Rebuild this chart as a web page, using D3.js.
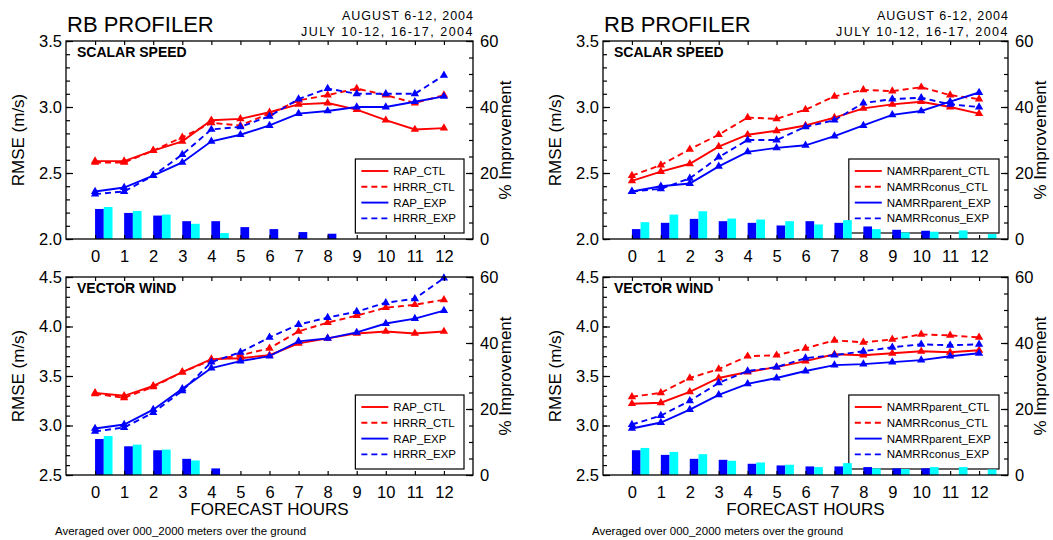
<!DOCTYPE html>
<html>
<head>
<meta charset="utf-8">
<script src="https://cdn.jsdelivr.net/npm/d3@7"></script>
<style>
  body { margin: 0; background: #fff; }
  svg { font-family: "Liberation Sans", Arial, sans-serif; }
  .axis path.domain { display: none; }
  .axis line { stroke: #000; stroke-width: 1.2; }
  .axis text { font-size: 16.5px; fill: #000; }
</style>
</head>
<body>
<script>
/* GLOBALS */
var W = 1053, H = 540;

var hours = [0, 1, 2, 3, 4, 5, 6, 7, 8, 9, 10, 11, 12];

// Scalar speed, RAP / HRRR (RMSE m/s)
var ssRapCtl  = [2.59, 2.59, 2.67, 2.74, 2.90, 2.91, 2.96, 3.02, 3.03, 2.98, 2.90, 2.83, 2.84];
var ssHrrrCtl = [2.58, 2.58, 2.67, 2.77, 2.88, 2.86, 2.95, 3.05, 3.09, 3.14, 3.09, 3.03, 3.09];
var ssRapExp  = [2.36, 2.39, 2.48, 2.58, 2.74, 2.79, 2.86, 2.95, 2.97, 3.00, 3.00, 3.04, 3.08];
var ssHrrrExp = [2.34, 2.36, 2.48, 2.64, 2.83, 2.85, 2.93, 3.06, 3.14, 3.10, 3.10, 3.10, 3.24];
// % improvement bars
var ssRapImp  = [9.1, 7.9, 7.1, 5.4, 5.4, 3.6, 3.0, 2.1, 1.6, null, null, null, null];
var ssHrrrImp = [9.7, 8.5, 7.4, 4.6, 1.8, null, null, null, null, null, null, null, null];

// Vector wind, RAP / HRRR
var vwRapCtl  = [3.33, 3.30, 3.40, 3.54, 3.67, 3.68, 3.71, 3.83, 3.88, 3.93, 3.95, 3.93, 3.95];
var vwHrrrCtl = [3.32, 3.28, 3.39, 3.54, 3.66, 3.71, 3.78, 3.95, 4.04, 4.11, 4.19, 4.22, 4.27];
var vwRapExp  = [2.97, 3.01, 3.16, 3.37, 3.58, 3.65, 3.70, 3.85, 3.88, 3.94, 4.03, 4.08, 4.16];
var vwHrrrExp = [2.94, 2.98, 3.13, 3.35, 3.64, 3.74, 3.89, 4.02, 4.09, 4.15, 4.24, 4.28, 4.49];
var vwRapImp  = [10.9, 8.7, 7.5, 4.9, 2.0, null, null, null, null, null, null, null, null];
var vwHrrrImp = [11.8, 9.2, 7.7, 4.4, null, null, null, null, null, null, null, null, null];

// Scalar speed, NAMRR parent / conus
var ssParCtl = [2.44, 2.51, 2.57, 2.70, 2.79, 2.82, 2.86, 2.92, 2.99, 3.02, 3.04, 3.00, 2.95];
var ssConCtl = [2.48, 2.56, 2.68, 2.79, 2.92, 2.91, 2.98, 3.08, 3.13, 3.12, 3.15, 3.09, 3.06];
var ssParExp = [2.36, 2.40, 2.42, 2.55, 2.66, 2.69, 2.71, 2.78, 2.86, 2.94, 2.97, 3.04, 3.11];
var ssConExp = [2.36, 2.38, 2.46, 2.62, 2.75, 2.75, 2.85, 2.90, 3.03, 3.06, 3.07, 3.02, 3.00];
var ssParImp = [3.0, 4.9, 6.1, 5.4, 4.9, 4.1, 5.4, 4.9, 3.8, 2.8, 2.5, null, null];
var ssConImp = [5.1, 7.4, 8.4, 6.2, 5.9, 5.4, 4.4, 5.7, 3.0, 2.0, 2.2, 2.6, 1.5];

// Vector wind, NAMRR parent / conus
var vwParCtl = [3.22, 3.23, 3.34, 3.48, 3.54, 3.59, 3.65, 3.72, 3.71, 3.73, 3.75, 3.74, 3.76];
var vwConCtl = [3.29, 3.33, 3.48, 3.57, 3.70, 3.71, 3.78, 3.86, 3.84, 3.87, 3.92, 3.91, 3.89];
var vwParExp = [2.97, 3.03, 3.16, 3.31, 3.42, 3.48, 3.55, 3.61, 3.62, 3.64, 3.66, 3.70, 3.73];
var vwConExp = [3.01, 3.10, 3.25, 3.43, 3.55, 3.59, 3.68, 3.71, 3.75, 3.79, 3.82, 3.81, 3.82];
var vwParImp = [7.5, 6.1, 4.9, 4.6, 3.4, 2.9, 2.6, 2.6, 2.4, 2.0, 2.0, null, null];
var vwConImp = [8.2, 7.0, 6.3, 4.3, 3.8, 3.1, 2.4, 3.6, 2.0, 1.8, 2.4, 2.4, 1.7];

var rapNames = ["RAP_CTL", "HRRR_CTL", "RAP_EXP", "HRRR_EXP"];
var namNames = ["NAMRRparent_CTL", "NAMRRconus_CTL", "NAMRRparent_EXP", "NAMRRconus_EXP"];

var lineColors = ["#ff0000", "#ff0000", "#0000ff", "#0000ff"];
var lineDash = [null, "6,4", null, "6,4"];
var barColors = ["#0000ff", "#00ffff"];

/* PANELS */
var panels = [
  { x0: 66,  x1: 473,  y0: 41,  y1: 239, dom: [2.0, 3.5], name: "SCALAR SPEED", head: true,
    series: [ssRapCtl, ssHrrrCtl, ssRapExp, ssHrrrExp], bars: [ssRapImp, ssHrrrImp], names: rapNames },
  { x0: 66,  x1: 473,  y0: 277, y1: 475, dom: [2.5, 4.5], name: "VECTOR WIND", head: false,
    series: [vwRapCtl, vwHrrrCtl, vwRapExp, vwHrrrExp], bars: [vwRapImp, vwHrrrImp], names: rapNames },
  { x0: 603, x1: 1008, y0: 41,  y1: 239, dom: [2.0, 3.5], name: "SCALAR SPEED", head: true,
    series: [ssParCtl, ssConCtl, ssParExp, ssConExp], bars: [ssParImp, ssConImp], names: namNames },
  { x0: 603, x1: 1008, y0: 277, y1: 475, dom: [2.5, 4.5], name: "VECTOR WIND", head: false,
    series: [vwParCtl, vwConCtl, vwParExp, vwConExp], bars: [vwParImp, vwConImp], names: namNames }
];

function init() {
  var svg = d3.select("body").append("svg")
    .attr("width", W)
    .attr("height", H);

  panels.forEach(function (p) { drawPanel(svg, p); });
}

function drawPanel(svg, p) {
  var x = d3.scaleLinear().domain([-1, 13]).range([p.x0, p.x1]);
  var y = d3.scaleLinear().domain(p.dom).range([p.y1, p.y0]);
  var yr = d3.scaleLinear().domain([0, 60]).range([p.y1, p.y0]);
  var g = svg.append("g");

  // improvement bars (blue = first model, cyan = second)
  p.bars.forEach(function (vals, k) {
    g.selectAll(null)
      .data(hours.filter(function (h) { return vals[h] != null; }))
      .enter().append("rect")
      .attr("x", function (h) { return x(h + 0.3 * k); })
      .attr("width", function (h) { return x(h + 0.3) - x(h); })
      .attr("y", function (h) { return yr(vals[h]); })
      .attr("height", function (h) { return yr(0) - yr(vals[h]); })
      .attr("fill", barColors[k]);
  });

  // RMSE lines with triangle markers
  p.series.forEach(function (vals, k) {
    var ln = d3.line()
      .x(function (h) { return x(h); })
      .y(function (h) { return y(vals[h]); });
    g.append("path")
      .datum(hours)
      .attr("d", ln)
      .attr("fill", "none")
      .attr("stroke", lineColors[k])
      .attr("stroke-width", 1.9)
      .attr("stroke-dasharray", lineDash[k]);
    g.selectAll(null)
      .data(hours)
      .enter().append("path")
      .attr("d", d3.symbol(d3.symbolTriangle, 30))
      .attr("transform", function (h) { return "translate(" + x(h) + "," + y(vals[h]) + ")"; })
      .attr("fill", lineColors[k]);
  });

  // frame
  g.append("rect")
    .attr("x", p.x0).attr("y", p.y0)
    .attr("width", p.x1 - p.x0).attr("height", p.y1 - p.y0)
    .attr("fill", "none").attr("stroke", "#000").attr("stroke-width", 1.3);

  // bottom / top axes
  g.append("g").attr("class", "axis")
    .attr("transform", "translate(0," + p.y1 + ")")
    .call(d3.axisBottom(x).tickValues(hours).tickSize(-4).tickPadding(11));
  g.append("g").attr("class", "axis")
    .attr("transform", "translate(0," + p.y0 + ")")
    .call(d3.axisTop(x).tickValues(hours).tickSize(-4).tickFormat(""));

  // left axis: major + minor
  var lo = p.dom[0], hi = p.dom[1];
  var major = d3.range(lo, hi + 0.001, 0.5);
  var minor = d3.range(lo, hi + 0.001, 0.1);
  g.append("g").attr("class", "axis")
    .attr("transform", "translate(" + p.x0 + ",0)")
    .call(d3.axisLeft(y).tickValues(minor).tickSize(-4).tickFormat(""));
  g.append("g").attr("class", "axis")
    .attr("transform", "translate(" + p.x0 + ",0)")
    .call(d3.axisLeft(y).tickValues(major).tickSize(-7).tickPadding(4).tickFormat(d3.format(".1f")));

  // right axis (% improvement)
  g.append("g").attr("class", "axis")
    .attr("transform", "translate(" + p.x1 + ",0)")
    .call(d3.axisRight(yr).tickValues(d3.range(0, 61, 5)).tickSize(-4).tickFormat(""));
  g.append("g").attr("class", "axis")
    .attr("transform", "translate(" + p.x1 + ",0)")
    .call(d3.axisRight(yr).tickValues([0, 20, 40, 60]).tickSize(-7).tickPadding(7));

  // axis titles
  var cy = (p.y0 + p.y1) / 2;
  g.append("text")
    .attr("transform", "translate(" + (p.x0 - 48) + "," + cy + ") rotate(-90)")
    .attr("text-anchor", "middle").attr("dy", "0.35em")
    .style("font-size", "17px")
    .text("RMSE (m/s)");
  g.append("text")
    .attr("transform", "translate(" + (p.x1 + 32) + "," + cy + ") rotate(-90)")
    .attr("text-anchor", "middle").attr("dy", "0.35em")
    .style("font-size", "17px")
    .text("% Improvement");

  // panel name
  g.append("text")
    .attr("x", p.x0 + 11).attr("y", p.y0 + 16)
    .style("font-size", "14px").style("font-weight", "bold")
    .text(p.name);

  // legend
  var leg = g.append("g");
  var items = leg.selectAll("g")
    .data(p.names)
    .enter().append("g")
    .attr("transform", function (d, i) { return "translate(0," + (i * 15.8) + ")"; });
  items.append("line")
    .attr("x1", 0).attr("x2", 27)
    .attr("stroke", function (d, i) { return lineColors[i]; })
    .attr("stroke-width", 1.9)
    .attr("stroke-dasharray", function (d, i) { return lineDash[i]; });
  items.append("text")
    .attr("x", 32).attr("dy", "0.35em")
    .style("font-size", "11.5px")
    .text(function (d) { return d; });
  var tw = d3.max(items.selectAll("text").nodes(), function (n) { return n.getComputedTextLength(); });
  var bw = 6 + 32 + tw + 8, bh = 74;
  var bx = p.x1 - 9 - bw, by = p.y1 - 6 - bh;
  leg.attr("transform", "translate(" + (bx + 6) + "," + (by + 12) + ")");
  g.insert("rect", ":first-child")
    .attr("x", bx).attr("y", by).attr("width", bw).attr("height", bh)
    .attr("fill", "#fff").attr("stroke", "#000").attr("stroke-width", 1.2);

  if (p.head) {
    g.append("text")
      .attr("x", p.x0 + 1).attr("y", 32)
      .style("font-size", "22px")
      .text("RB PROFILER");
    g.append("text")
      .attr("x", p.x1 + 1).attr("y", 20)
      .attr("text-anchor", "end")
      .style("font-size", "12.5px").style("letter-spacing", "1px")
      .text("AUGUST 6-12, 2004");
    g.append("text")
      .attr("x", p.x1 + 1).attr("y", 36)
      .attr("text-anchor", "end")
      .style("font-size", "12.5px").style("letter-spacing", "1.5px")
      .text("JULY 10-12, 16-17, 2004");
  } else {
    g.append("text")
      .attr("x", x(6)).attr("y", 515)
      .attr("text-anchor", "middle")
      .style("font-size", "17px")
      .text("FORECAST HOURS");
    g.append("text")
      .attr("x", p.x0 - 11).attr("y", 535)
      .style("font-size", "11.5px")
      .text("Averaged over 000_2000 meters over the ground");
  }
}

window.addEventListener("load", init);
</script>
</body>
</html>
